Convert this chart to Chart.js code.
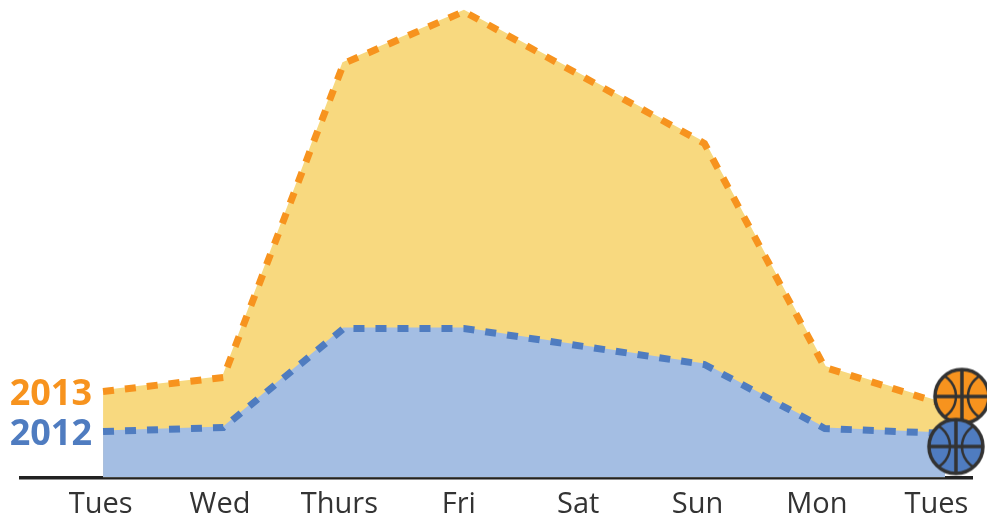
<!DOCTYPE html>
<html>
<head>
<meta charset="utf-8">
<script src="https://cdn.jsdelivr.net/npm/chart.js@4/dist/chart.umd.min.js"></script>
<style>
  html, body { margin: 0; padding: 0; background: #fff; overflow: hidden; }
  canvas { display: block; }
</style>
</head>
<body>
<canvas id="chart" width="987" height="518"></canvas>
<script>
// values (no y axis shown, units are arbitrary)
const days = ["Tues", "Wed", "Thurs", "Fri", "Sat", "Sun", "Mon", "Tues"];
const values2013 = [86, 100, 414, 466, 400, 334, 110, 73];
const values2012 = [46, 50, 149, 149, 131, 113, 49, 44];
const ball2013 = [{ x: 7.14, y: 81 }];
const ball2012 = [{ x: 7.09, y: 31 }];

const orange = "#F7931E";
const blue = "#4F7CC0";
const dark = "#333333";

function toPoints(values) {
  return values.map((v, i) => ({ x: i, y: v }));
}

// basketball icon, used as the point style of the end markers
function makeBall(color) {
  const r = 28;
  const c = document.createElement("canvas");
  c.width = c.height = 2 * r + 4;
  const g = c.getContext("2d");
  const m = r + 2;
  g.strokeStyle = dark;
  g.fillStyle = color;
  g.lineWidth = 3.5;
  g.beginPath();
  g.arc(m, m, r - 1, 0, Math.PI * 2);
  g.fill();
  g.stroke();
  g.save();
  g.beginPath();
  g.arc(m, m, r - 1, 0, Math.PI * 2);
  g.clip();
  g.beginPath();
  g.moveTo(m, 0);
  g.lineTo(m, c.height);
  g.moveTo(0, m);
  g.lineTo(c.width, m);
  g.stroke();
  g.lineWidth = 2.5;
  g.beginPath();
  g.arc(m - 30, m, 24, -Math.PI / 2.2, Math.PI / 2.2);
  g.stroke();
  g.beginPath();
  g.arc(m + 30, m, 24, Math.PI - Math.PI / 2.2, Math.PI + Math.PI / 2.2);
  g.stroke();
  g.restore();
  return c;
}

// year labels sit left of the first point of each series
const yearLabels = {
  id: "yearLabels",
  afterDatasetsDraw(chart) {
    const { ctx, scales } = chart;
    ctx.save();
    ctx.font = "bold 36px 'Open Sans'";
    ctx.textAlign = "right";
    ctx.textBaseline = "middle";
    ctx.fillStyle = orange;
    ctx.fillText("2013", scales.x.getPixelForValue(0) - 11, scales.y.getPixelForValue(values2013[0]) + 3);
    ctx.fillStyle = blue;
    ctx.fillText("2012", scales.x.getPixelForValue(0) - 11, scales.y.getPixelForValue(values2012[0]) + 3);
    ctx.restore();
  },
};

new Chart(document.getElementById("chart"), {
  type: "line",
  data: {
    datasets: [
      { type: "scatter", data: ball2012, order: 1, clip: false, pointStyle: makeBall(blue), pointRadius: 28 },
      { type: "scatter", data: ball2013, order: 2, clip: false, pointStyle: makeBall(orange), pointRadius: 28 },
      { data: toPoints(values2012), order: 3, clip: false, borderColor: blue, borderWidth: 7, borderDash: [11, 11], pointRadius: 0, tension: 0, fill: false },
      { data: toPoints(values2013), order: 4, clip: false, borderColor: orange, borderWidth: 7, borderDash: [11, 11], pointRadius: 0, tension: 0, fill: false },
      { data: toPoints(values2012), order: 5, borderColor: "#A4BEE3", backgroundColor: "#A4BEE3", borderWidth: 2, pointRadius: 0, tension: 0, fill: "origin" },
      { data: toPoints(values2013), order: 6, borderColor: "#F8D97F", backgroundColor: "#F8D97F", borderWidth: 3, pointRadius: 0, tension: 0, fill: "origin" },
    ],
  },
  options: {
    responsive: false,
    animation: false,
    layout: { autoPadding: false, padding: { left: 21, right: 15, top: 0, bottom: 0 } },
    plugins: { legend: { display: false }, tooltip: { enabled: false } },
    scales: {
      x: {
        type: "linear",
        min: -0.682,
        max: 7.224,
        grid: { display: false, drawTicks: false },
        border: { display: true, color: "#222222", width: 3.5 },
        afterBuildTicks: (axis) => {
          // labels run slightly tighter than the points
          axis.ticks = days.map((d, i) => ({ value: i * 0.9925 - 0.02 }));
        },
        afterFit: (axis) => {
          axis.height = 40.5;
        },
        ticks: {
          autoSkip: false,
          maxRotation: 0,
          padding: 10,
          color: dark,
          font: { family: "'Open Sans'", size: 29 },
          callback: (v, i) => days[i],
        },
      },
      y: { display: false, min: 0, max: 477.5 },
    },
  },
  plugins: [yearLabels],
});
</script>
</body>
</html>
